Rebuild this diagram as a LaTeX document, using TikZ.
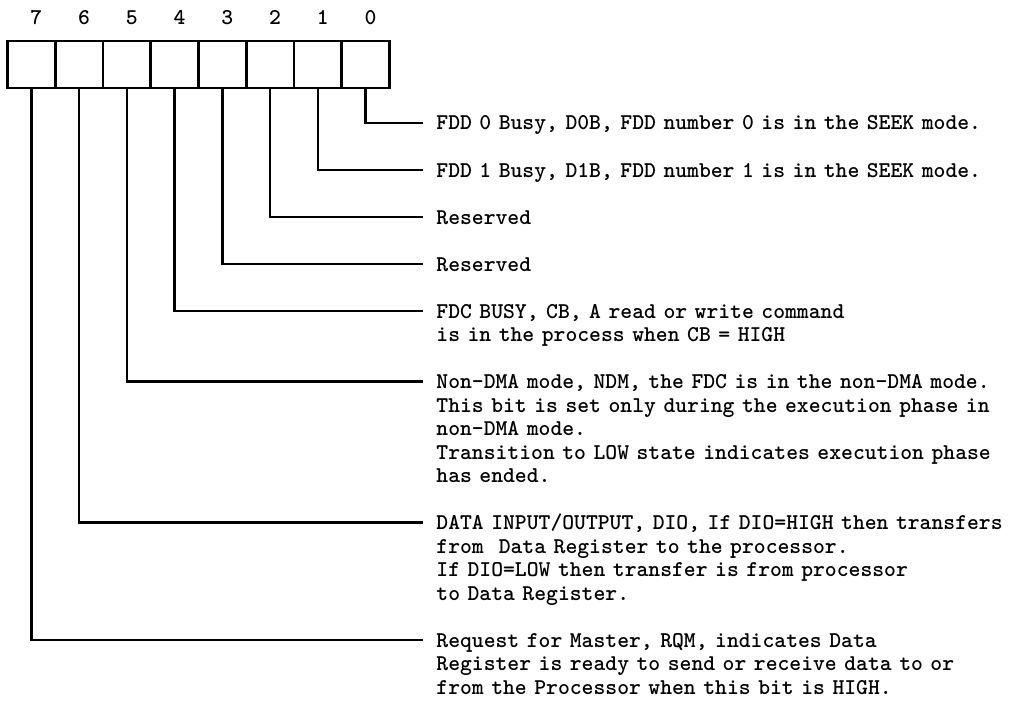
\documentclass[tikz,border=0pt]{standalone}
\usepackage{tikz}
\usetikzlibrary{positioning}

\begin{document}
\begin{tikzpicture}[
x=0.5pt, y=-0.5pt,
bitcell/.style={draw, line width=1.4pt, minimum width=23.875pt, minimum height=23.5pt, inner sep=0pt, outer sep=0pt},
bitnum/.style={font=\ttfamily\bfseries\fontsize{11.28}{12}\selectfont, inner sep=0pt, xshift=2.5pt},
desc/.style={font=\ttfamily\bfseries\fontsize{11.28}{11.75}\selectfont, text width=298pt, align=left, inner sep=0pt, anchor=base west},
wire/.style={line width=1.2pt}
]
\useasboundingbox (0,0) rectangle (1031,711);
% the register, bit 7 on the left
\node[bitcell] (b7) at (31.4,64.5) {};
\node[bitcell, right=0pt of b7] (b6) {};
\node[bitcell, right=0pt of b6] (b5) {};
\node[bitcell, right=0pt of b5] (b4) {};
\node[bitcell, right=0pt of b4] (b3) {};
\node[bitcell, right=0pt of b3] (b2) {};
\node[bitcell, right=0pt of b2] (b1) {};
\node[bitcell, right=0pt of b1] (b0) {};
\node[bitnum, above=8pt of b7] (n7) {7};
\node[bitnum, above=8pt of b6] (n6) {6};
\node[bitnum, above=8pt of b5] (n5) {5};
\node[bitnum, above=8pt of b4] (n4) {4};
\node[bitnum, above=8pt of b3] (n3) {3};
\node[bitnum, above=8pt of b2] (n2) {2};
\node[bitnum, above=8pt of b1] (n1) {1};
\node[bitnum, above=8pt of b0] (n0) {0};
% line ends
\coordinate (e0) at (423,123);
\coordinate (e1) at (423,170);
\coordinate (e2) at (423,217);
\coordinate (e3) at (423,264);
\coordinate (e4) at (423,311);
\coordinate (e5) at (423,381.5);
\coordinate (e6) at (423,522.5);
\coordinate (e7) at (423,640);
% descriptions
\node[desc] (t0) at (436,130) {FDD 0 Busy, D0B, FDD number 0 is in the SEEK mode.};
\node[desc] (t1) at (436,177) {FDD 1 Busy, D1B, FDD number 1 is in the SEEK mode.};
\node[desc] (t2) at (436,224) {Reserved};
\node[desc] (t3) at (436,271) {Reserved};
\node[desc] (t4) at (436,318) {FDC BUSY, CB, A read or write command\\is in the process when CB = HIGH};
\node[desc] (t5) at (436,388.5) {Non-DMA mode, NDM, the FDC is in the non-DMA mode.\\This bit is set only during the execution phase in\\non-DMA mode.\\Transition to LOW state indicates execution phase\\has ended.};
\node[desc] (t6) at (436,529.5) {DATA INPUT/OUTPUT, DIO, If DIO=HIGH then transfers\\from~ Data Register to the processor.\\If DIO=LOW then transfer is from processor\\to Data Register.};
\node[desc] (t7) at (436,647) {Request for Master, RQM, indicates Data\\Register is ready to send or receive data to or\\from the Processor when this bit is HIGH.};
\draw[wire] (b0.south) |- (e0);
\draw[wire] (b1.south) |- (e1);
\draw[wire] (b2.south) |- (e2);
\draw[wire] (b3.south) |- (e3);
\draw[wire] (b4.south) |- (e4);
\draw[wire] (b5.south) |- (e5);
\draw[wire] (b6.south) |- (e6);
\draw[wire] (b7.south) |- (e7);
\end{tikzpicture}
\end{document}
